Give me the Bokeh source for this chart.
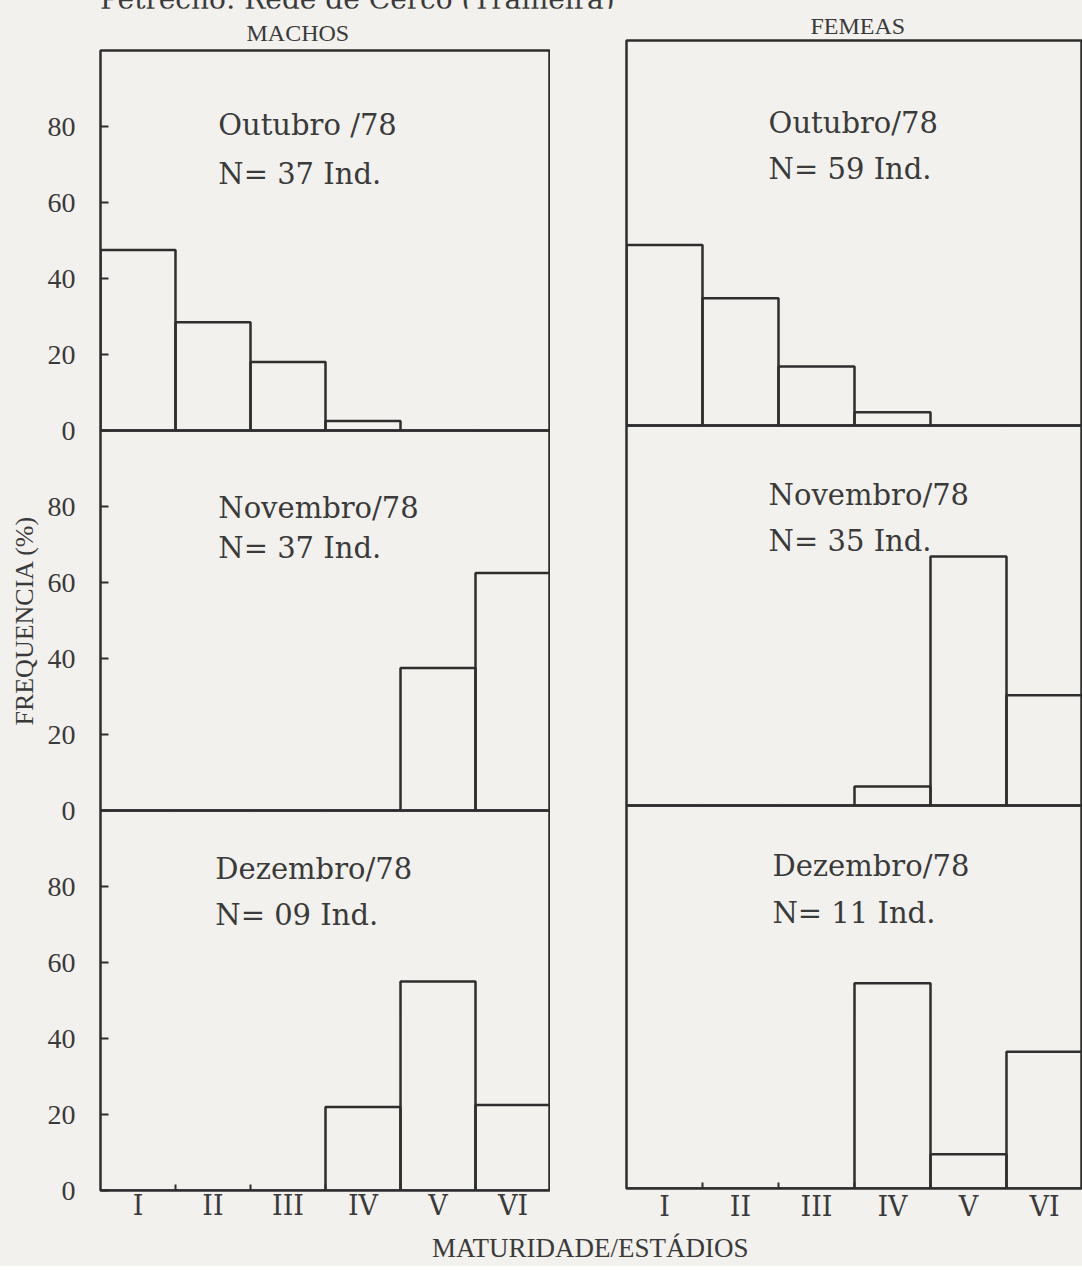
from bokeh.plotting import figure
from bokeh.models import Label, FixedTicker, Range1d, Div, Span
from bokeh.layouts import column, row
from bokeh.embed import file_html
from bokeh.resources import INLINE

# ---------------- data ----------------
categories = ["I", "II", "III", "IV", "V", "VI"]
machos_out = [47.5, 28.5, 18.0, 2.5, 0, 0]
machos_nov = [0, 0, 0, 0, 37.5, 62.5]
machos_dez = [0, 0, 0, 22.0, 55.0, 22.5]
femeas_out = [47.5, 33.5, 15.5, 3.5, 0, 0]
femeas_nov = [0, 0, 0, 5.0, 65.5, 29.0]
femeas_dez = [0, 0, 0, 54.0, 9.0, 36.0]
meses_machos = ["Outubro /78", "Novembro/78", "Dezembro/78"]
meses_femeas = ["Outubro/78", "Novembro/78", "Dezembro/78"]
n_machos = ["N= 37 Ind.", "N= 37 Ind.", "N= 09 Ind."]
n_femeas = ["N= 59 Ind.", "N= 35 Ind.", "N= 11 Ind."]
y_ticks = [0, 20, 40, 60, 80]

# ---------------- style / layout ----------------
BG = "#f2f1ed"
INK = "#2e2e2e"
TXT = "#3a3a3a"
PX = 3.8                      # pixels per percent unit

centers = [i + 0.5 for i in range(len(categories))]
bounds = [float(i) for i in range(1, len(categories))]


def column_fig(series, meses, ns, offsets, frame_w, frame_h, x_end,
               bl, bt, bb, title, title_offset, title_standoff,
               text_pos, show_y, xlab_standoff):
    p = figure(frame_width=frame_w, frame_height=frame_h,
               min_border_left=bl, min_border_right=0,
               min_border_top=bt, min_border_bottom=bb,
               x_range=Range1d(0, x_end),
               y_range=Range1d(0, frame_h / PX),
               output_backend="svg", toolbar_location=None)
    p.background_fill_color = BG
    p.border_fill_color = BG
    p.outline_line_color = INK
    p.outline_line_width = 2.5
    p.xgrid.visible = False
    p.ygrid.visible = False

    p.title.text = title
    p.title.align = "left"
    p.title.offset = title_offset
    p.title.standoff = title_standoff
    p.title.text_font = "Liberation Serif"
    p.title.text_font_size = "24px"
    p.title.text_font_style = "normal"
    p.title.text_color = TXT

    for vals, mes, n, off, (tx, ty1, ty2) in zip(series, meses, ns, offsets, text_pos):
        p.vbar(x=centers, top=[off + v for v in vals], bottom=off, width=1.0,
               fill_color=None, line_color=INK, line_width=2.5)
        if off > 0:
            p.add_layout(Span(location=off, dimension="width",
                              line_color=INK, line_width=2.5))
        for txt, yy in ((mes, ty1), (n, ty2)):
            p.add_layout(Label(x=tx, y=off + yy, text=txt,
                               text_font="DejaVu Serif", text_font_size="29px",
                               text_color=TXT, text_baseline="middle",
                               text_align="left"))

    ay = p.yaxis[0]
    if show_y:
        ticks = [off + t for off in offsets for t in y_ticks]
        ay.ticker = FixedTicker(ticks=ticks)
        ay.major_label_overrides = {off + t: str(t) for off in offsets for t in y_ticks}
        ay.axis_line_color = None
        ay.major_tick_in = 8
        ay.major_tick_out = 0
        ay.major_tick_line_color = INK
        ay.major_tick_line_width = 2
        ay.minor_tick_line_color = None
        ay.major_label_standoff = 25
        ay.major_label_text_font = "Liberation Serif"
        ay.major_label_text_font_size = "28px"
        ay.major_label_text_color = TXT
        ay.axis_label = "FREQUENCIA (%)"
        ay.axis_label_standoff = 6
        ay.axis_label_text_font = "Liberation Serif"
        ay.axis_label_text_font_size = "26px"
        ay.axis_label_text_font_style = "normal"
        ay.axis_label_text_color = TXT
    else:
        ay.visible = False

    ax = p.xaxis[0]
    ax.ticker = FixedTicker(ticks=centers, minor_ticks=bounds)
    ax.major_label_overrides = {c: k for c, k in zip(centers, categories)}
    ax.axis_line_color = None
    ax.major_tick_line_color = None
    ax.minor_tick_in = 6
    ax.minor_tick_out = 0
    ax.minor_tick_line_color = INK
    ax.minor_tick_line_width = 2
    ax.major_label_standoff = xlab_standoff
    ax.major_label_text_font = "DejaVu Serif"
    ax.major_label_text_font_size = "27px"
    ax.major_label_text_color = TXT
    return p


# left column: frame 100..550 x, 50..1190 y (three panels of 100 units)
left = column_fig([machos_out, machos_nov, machos_dez], meses_machos, n_machos,
                  [200.0, 100.0, 0.0], 450, 1140, 6.0,
                  100, 42, 40, "MACHOS", 146, 10,
                  [(1.57, 80.3, 67.6), (1.57, 79.5, 69.0), (1.53, 84.7, 72.4)],
                  True, -7)
# right column: frame 626..1082 x, 40..1188 y
RW = 456
right = column_fig([femeas_out, femeas_nov, femeas_dez], meses_femeas, n_femeas,
                   [200.8, 100.8, 0.0], RW, 1148, RW / 76.0,
                   76, 32, 42, "FEMEAS", 184, 4,
                   [(1.87, 79.5, 67.6), (1.87, 81.6, 69.7), (1.92, 85.0, 72.6)],
                   False, -4)

header = Div(text="Petrecho: Rede de Cerco (Traineira)", width=720, height=16,
             margin=(-8, 0, 0, 100),
             styles={"font-family": "DejaVu Serif", "font-size": "28px",
                     "line-height": "16px", "color": TXT, "white-space": "nowrap",
                     "overflow": "visible"})
footer = Div(text="MATURIDADE/ESTÁDIOS", width=420, height=36,
             margin=(0, 0, 0, 432),
             styles={"font-family": "Liberation Serif", "font-size": "27px",
                     "line-height": "36px", "color": TXT, "white-space": "nowrap"})

layout = column(header, row(column(left), column(right)), footer,
                styles={"background-color": BG})

open("out.html", "w").write(file_html(layout, INLINE))
